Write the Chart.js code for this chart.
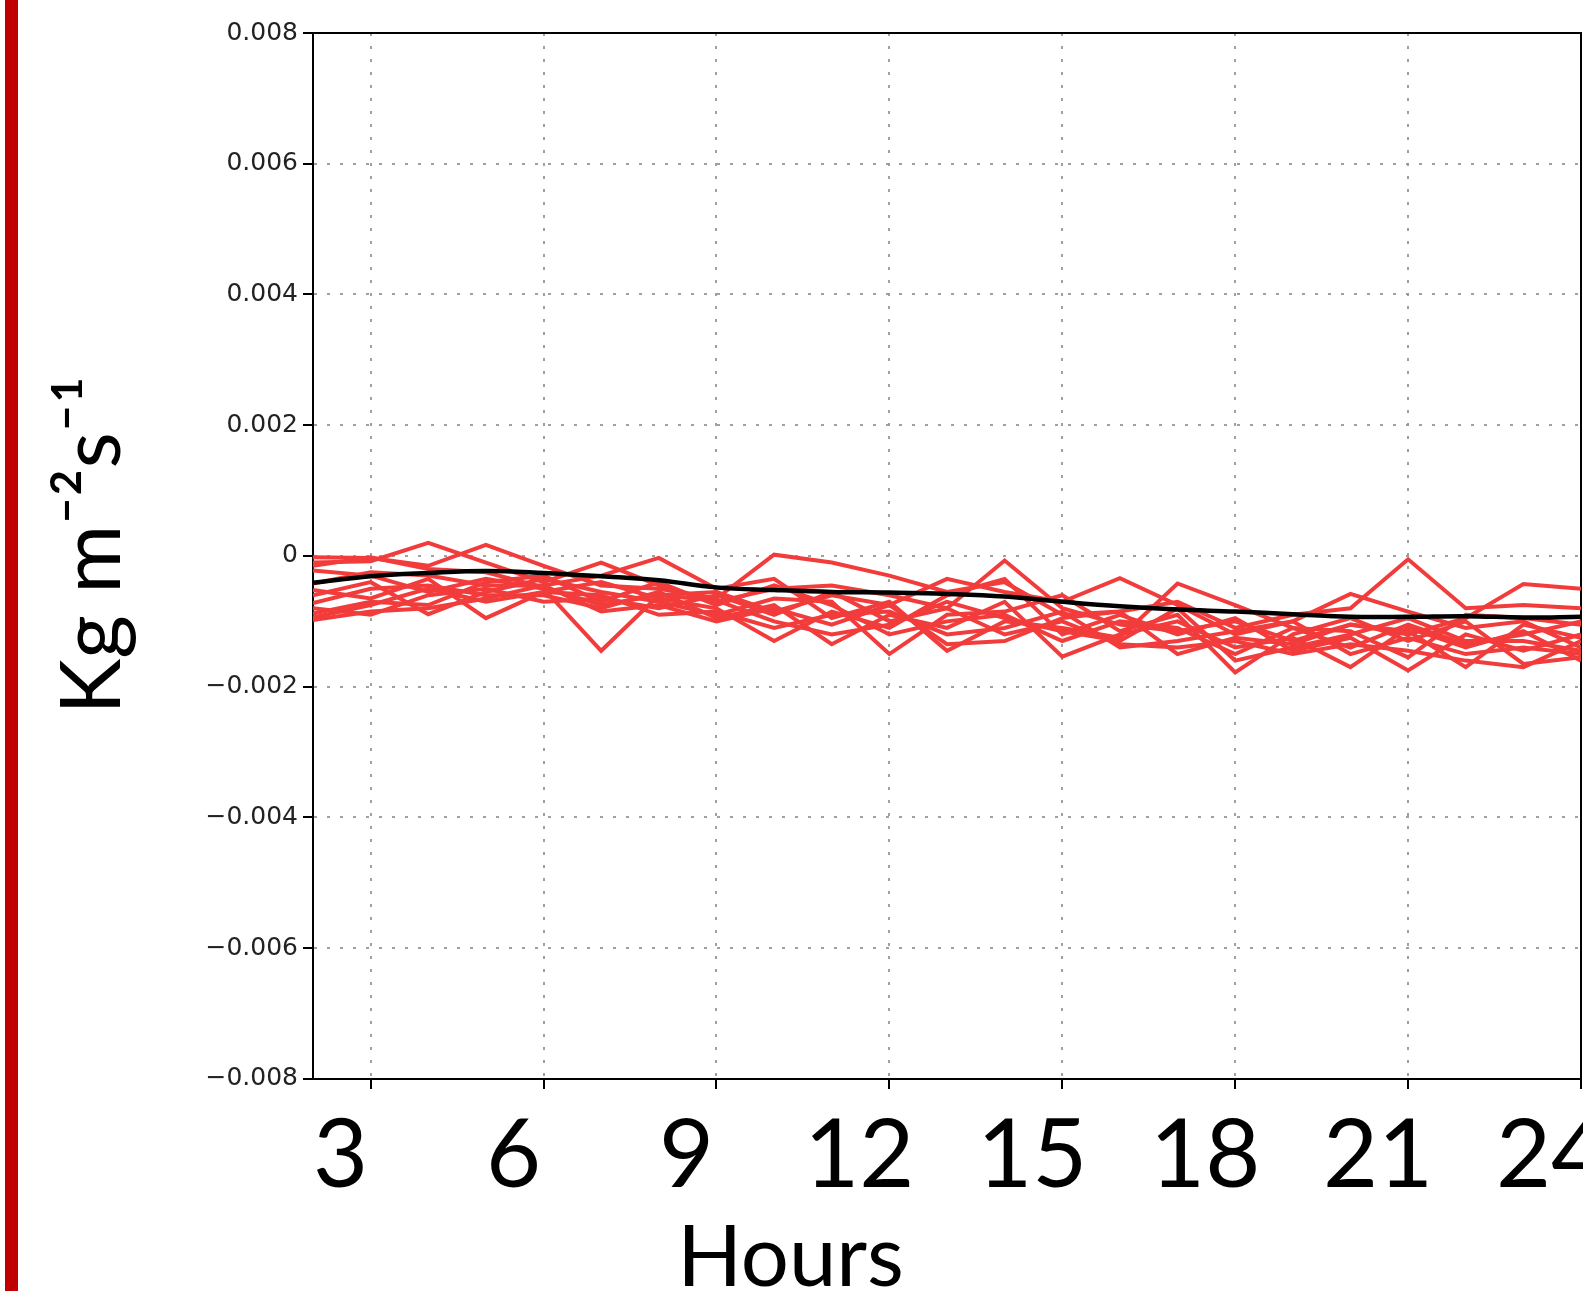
<!DOCTYPE html>
<html>
<head>
<meta charset="utf-8">
<script src="https://cdn.jsdelivr.net/npm/chart.js@4"></script>
<style>
  html, body { margin: 0; padding: 0; background: #fff; }
  #wrap { position: relative; width: 1583px; height: 1291px; overflow: hidden; }
  #bar { position: absolute; left: 5px; top: 0; width: 13px; height: 1291px; background: #c00000; z-index: 2; }
</style>
</head>
<body>
<div id="wrap">
  <div id="bar"></div>
  <canvas id="flux"></canvas>
</div>
<script>
// hours of the day
var hours = [2, 3, 4, 5, 6, 7, 8, 9, 10, 11, 12, 13, 14, 15, 16, 17, 18, 19, 20, 21, 22, 23, 24];

// black curve
var meanFlux = [-0.00041, -0.00031, -0.00026, -0.00023, -0.00026, -0.00031, -0.00037, -0.00048, -0.00052, -0.00055, -0.00056, -0.00058, -0.00062, -0.0007, -0.00077, -0.00082, -0.00085, -0.00089, -0.00093, -0.00093, -0.00092, -0.00094, -0.00093];

// red members
var m1 = [-0.00002, -0.00003, -0.00015, 0.00017, -0.00015, -0.00045, -0.0005, -0.00065, 0.00002, -0.0001, -0.0003, -0.00055, -0.0004, -0.0009, -0.00085, -0.0007, -0.0011, -0.0009, -0.0008, -0.00005, -0.0008, -0.00075, -0.0008];
var m2 = [-0.0001, -0.00008, 0.0002, -0.0001, -0.0004, -0.0001, -0.00045, -0.0007, -0.0005, -0.00045, -0.0006, -0.0008, -0.00007, -0.0008, -0.00105, -0.00115, -0.001, -0.0013, -0.00105, -0.0012, -0.00095, -0.00043, -0.0005];
var m3 = [-0.00022, -0.0003, -0.00055, -0.00035, -0.0005, -0.00145, -0.0006, -0.00055, -0.00085, -0.0006, -0.00075, -0.00035, -0.00055, -0.0007, -0.00034, -0.00075, -0.0012, -0.001, -0.00058, -0.00085, -0.0011, -0.001, -0.0014];
var m4 = [-0.00042, -0.00025, -0.0003, -0.00045, -0.00045, -0.0003, -0.00003, -0.0005, -0.00035, -0.00095, -0.0007, -0.00145, -0.001, -0.0011, -0.00125, -0.00042, -0.00075, -0.0011, -0.0014, -0.00105, -0.00135, -0.0012, -0.001];
var m5 = [-0.00052, -0.00065, -0.00035, -0.00095, -0.00055, -0.0004, -0.00065, -0.0008, -0.0013, -0.00085, -0.0011, -0.0006, -0.00035, -0.0012, -0.0009, -0.0012, -0.00095, -0.00145, -0.00125, -0.00175, -0.0012, -0.00145, -0.0012];
var m6 = [-0.0006, -0.0004, -0.00089, -0.00055, -0.00035, -0.00055, -0.0007, -0.0009, -0.00065, -0.0007, -0.0015, -0.0009, -0.00085, -0.0006, -0.00115, -0.0009, -0.00178, -0.0012, -0.00095, -0.0013, -0.001, -0.00165, -0.00155];
var m7 = [-0.00072, -0.0005, -0.00045, -0.0006, -0.0006, -0.0008, -0.00055, -0.00095, -0.00075, -0.00135, -0.0009, -0.0011, -0.0007, -0.00154, -0.0012, -0.001, -0.0014, -0.00125, -0.0017, -0.0011, -0.0014, -0.00115, -0.0016];
var m8 = [-0.0008, -0.0009, -0.0006, -0.0005, -0.0007, -0.00065, -0.0008, -0.0006, -0.0009, -0.00055, -0.001, -0.0008, -0.0012, -0.001, -0.00135, -0.0014, -0.0013, -0.0015, -0.00135, -0.00145, -0.0016, -0.0017, -0.0013];
var m9 = [-0.00088, -0.0007, -0.00075, -0.0004, -0.0003, -0.0007, -0.0004, -0.00075, -0.00045, -0.00075, -0.0012, -0.001, -0.0009, -0.0013, -0.001, -0.0011, -0.0015, -0.0011, -0.00115, -0.00155, -0.0009, -0.00095, -0.00105];
var m10 = [-0.00094, -0.00075, -0.0005, -0.0007, -0.00055, -0.0006, -0.0009, -0.00085, -0.0011, -0.0009, -0.00085, -0.0012, -0.0011, -0.00085, -0.0014, -0.0013, -0.00115, -0.001, -0.0015, -0.00125, -0.0015, -0.0014, -0.0015];
var m11 = [-0.00098, -0.00085, -0.0008, -0.00065, -0.00045, -0.00085, -0.00075, -0.001, -0.0008, -0.00105, -0.00075, -0.00135, -0.0013, -0.00095, -0.00085, -0.0015, -0.00125, -0.00135, -0.00105, -0.00115, -0.0017, -0.00105, -0.00125];
var m12 = [-0.00015, -0.00002, -0.0002, -0.00025, -0.00048, -0.00075, -0.0006, -0.00068, -0.001, -0.0012, -0.00105, -0.0007, -0.00095, -0.00115, -0.0013, -0.0008, -0.0016, -0.0014, -0.0012, -0.00095, -0.0013, -0.0013, -0.00145];

var members = [m1, m2, m3, m4, m5, m6, m7, m8, m9, m10, m11, m12];

// a leading space nudges the rotated title up a little
var yTitle = ' Kg m\u207B\u00B2s\u207B\u00B9';
var xTitle = 'Hours';

var datasets = [{
  data: meanFlux,
  borderColor: '#000000',
  borderWidth: 4.5,
  pointRadius: 0,
  tension: 0.4,
  order: 0
}];
members.forEach(function(m) {
  datasets.push({
    data: m,
    borderColor: '#f23c3c',
    borderWidth: 4,
    pointRadius: 0,
    tension: 0,
    order: 1
  });
});

var noPad = function(scale) {
  scale.paddingLeft = 0;
  scale.paddingRight = 0;
  scale.paddingTop = 0;
  scale.paddingBottom = 0;
};

new Chart(document.getElementById('flux'), {
  type: 'line',
  data: { labels: hours, datasets: datasets },
  options: {
    responsive: true,
    maintainAspectRatio: false,
    animation: false,
    layout: { padding: { top: 33, right: 2, left: 0, bottom: 0 } },
    plugins: {
      legend: { display: false },
      tooltip: { enabled: false },
      title: {
        display: true,
        position: 'bottom',
        text: xTitle,
        color: '#000',
        font: { family: 'Lato', size: 85, weight: 'normal', lineHeight: 0.753 },
        padding: 0
      }
    },
    scales: {
      x: {
        type: 'linear',
        min: 2,
        max: 24,
        afterFit: function(scale) { scale.height = 148; noPad(scale); },
        ticks: {
          stepSize: 3,
          includeBounds: false,
          autoSkip: false,
          maxRotation: 0,
          labelOffset: -30,
          padding: 10,
          color: '#000',
          font: { family: 'Lato', size: 95 }
        },
        grid: {
          color: 'rgba(150,150,150,0.9)',
          lineWidth: 2,
          tickLength: 10,
          tickColor: '#000',
          tickWidth: 2
        },
        border: { color: '#000', width: 2, dash: [3, 10] }
      },
      xTop: {
        type: 'linear',
        position: 'top',
        afterFit: function(scale) { scale.height = 0; noPad(scale); },
        ticks: { display: false },
        grid: { display: false, drawTicks: false },
        border: { color: '#000', width: 2 }
      },
      y: {
        min: -0.008,
        max: 0.008,
        afterFit: function(scale) { scale.width = 313; noPad(scale); },
        title: {
          display: true,
          text: yTitle,
          color: '#000',
          font: { family: 'Lato', size: 84, lineHeight: 1 },
          padding: { top: 51, bottom: 0 }
        },
        ticks: {
          stepSize: 0.002,
          padding: 5,
          color: '#222',
          font: { family: 'DejaVu Sans', size: 25 },
          callback: function(v) {
            if (Math.abs(v) < 1e-9) return '0';
            return (v < 0 ? '\u2212' : '') + Math.abs(v).toFixed(3);
          }
        },
        grid: {
          color: function(ctx) {
            if (ctx.tick && Math.abs(Math.abs(ctx.tick.value) - 0.008) < 1e-9) return 'rgba(0,0,0,0)';
            return 'rgba(150,150,150,0.9)';
          },
          lineWidth: 2,
          tickLength: 10,
          tickColor: '#000',
          tickWidth: 2
        },
        border: { color: '#000', width: 2, dash: [3, 10] }
      },
      yRight: {
        type: 'linear',
        position: 'right',
        afterFit: function(scale) { scale.width = 0; noPad(scale); },
        ticks: { display: false },
        grid: { display: false, drawTicks: false },
        border: { color: '#000', width: 2 }
      }
    }
  }
});
</script>
</body>
</html>
